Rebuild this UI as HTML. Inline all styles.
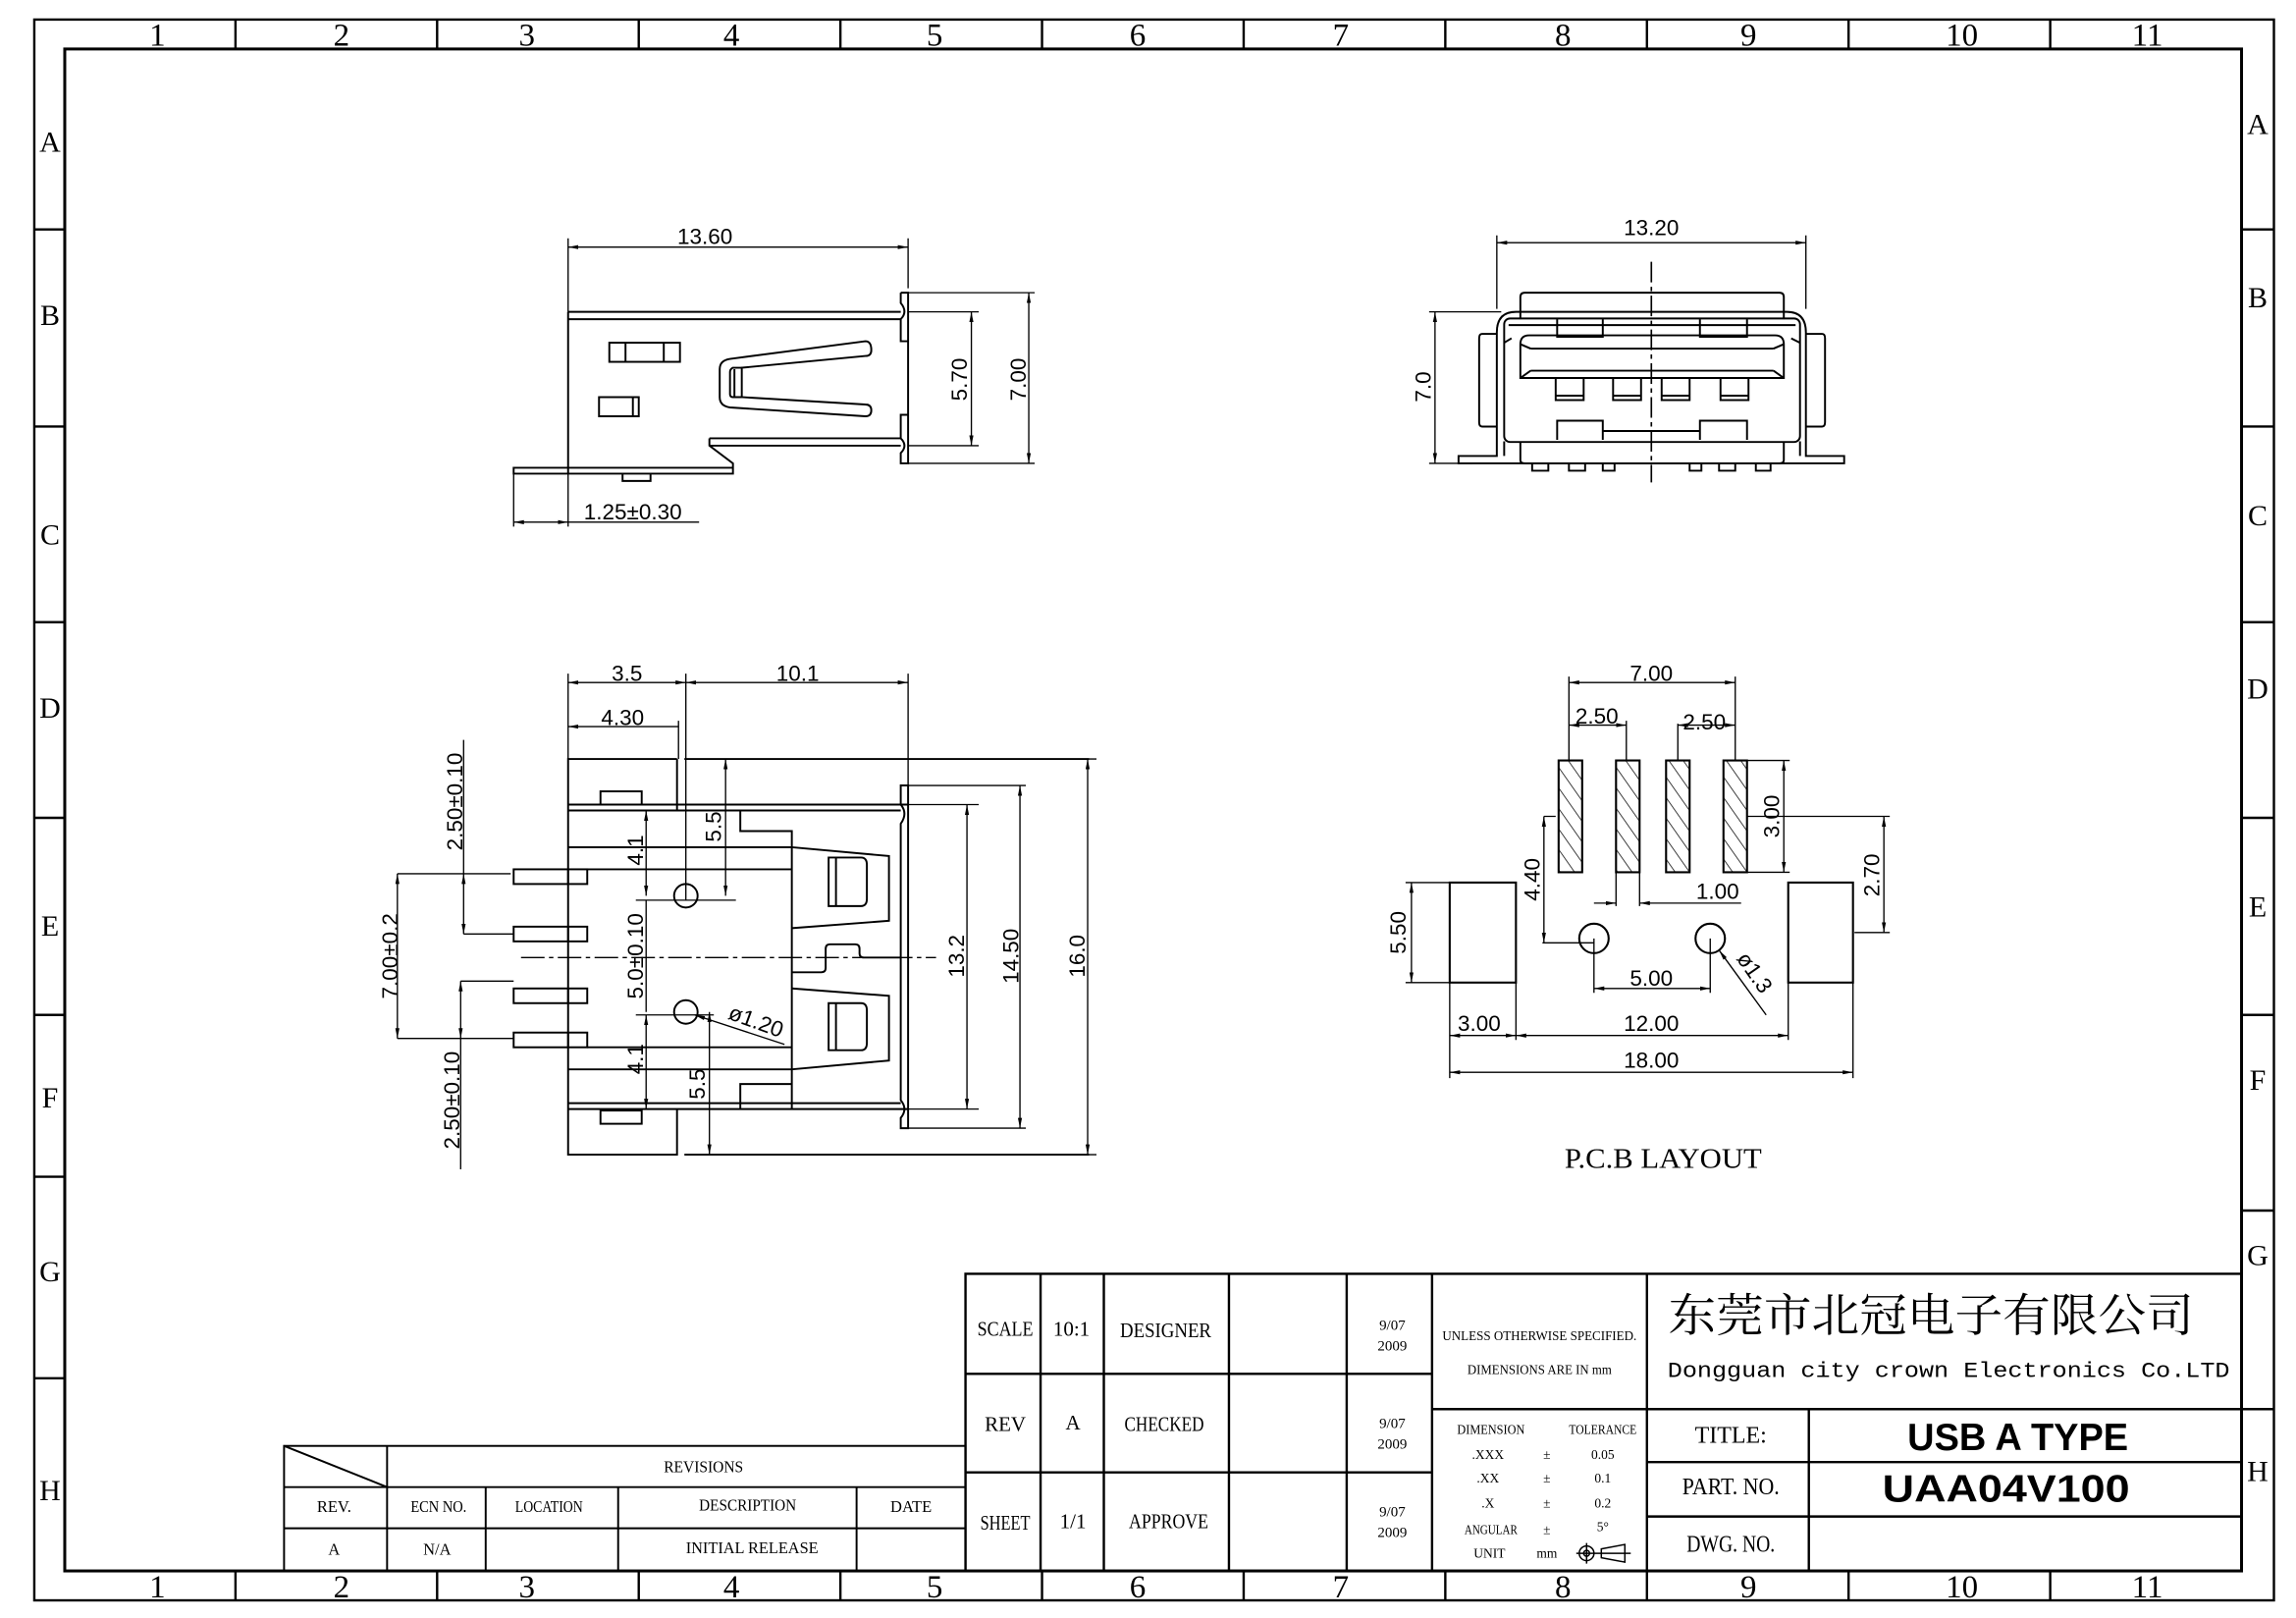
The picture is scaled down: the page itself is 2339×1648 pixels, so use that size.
<!DOCTYPE html>
<html><head><meta charset="utf-8"><style>
html,body{margin:0;padding:0;background:#fff;width:2339px;height:1648px;overflow:hidden}
svg{display:block}
.f{font-family:"Liberation Serif",serif}
.s{font-family:"Liberation Sans",sans-serif}
.m{font-family:"Liberation Mono",monospace}
</style></head><body>
<svg width="2339" height="1648" viewBox="0 0 1560 1100" preserveAspectRatio="none" xmlns="http://www.w3.org/2000/svg">
<defs>
<marker id="a" viewBox="0 0 10 4" refX="10" refY="2" markerWidth="7" markerHeight="3" orient="auto-start-reverse" markerUnits="userSpaceOnUse"><path d="M0,0 L10,2 L0,4z" fill="#000"/></marker>
<pattern id="h" width="8" height="8" patternUnits="userSpaceOnUse" patternTransform="rotate(-35)"><line x1="0" y1="0" x2="0" y2="8" stroke="#000" stroke-width="1"/></pattern>
</defs>
<rect width="1560" height="1100" fill="#fff"/>
<!-- frame -->
<g fill="none" stroke="#000" stroke-width="1.6">
<rect x="23.3" y="13.3" width="1521.7" height="1074.7"/>
<rect x="44" y="33.3" width="1479" height="1734.7" style="display:none"/>
<rect x="44" y="33.3" width="1479" height="1034.7" stroke-width="2"/>
<path d="M160 13.3V33.3M297 13.3V33.3M434 13.3V33.3M571 13.3V33.3M708 13.3V33.3M845 13.3V33.3M982 13.3V33.3M1119 13.3V33.3M1256 13.3V33.3M1393 13.3V33.3"/>
<path d="M160 1068V1088M297 1068V1088M434 1068V1088M571 1068V1088M708 1068V1088M845 1068V1088M982 1068V1088M1119 1068V1088M1256 1068V1088M1393 1068V1088"/>
<path d="M23.3 156H44M23.3 290H44M23.3 423H44M23.3 556H44M23.3 690H44M23.3 800H44M23.3 937H44"/>
<path d="M1523 156H1545M1523 290H1545M1523 423H1545M1523 556H1545M1523 690H1545M1523 823H1545M1523 958H1545"/>
</g>
<g class="f" font-size="22" text-anchor="middle">
<text x="107" y="31">1</text><text x="232" y="31">2</text><text x="358" y="31">3</text><text x="497" y="31">4</text><text x="635" y="31">5</text><text x="773" y="31">6</text><text x="911" y="31">7</text><text x="1062" y="31">8</text><text x="1188" y="31">9</text><text x="1333" y="31">10</text><text x="1459" y="31">11</text>
<text x="107" y="1086">1</text><text x="232" y="1086">2</text><text x="358" y="1086">3</text><text x="497" y="1086">4</text><text x="635" y="1086">5</text><text x="773" y="1086">6</text><text x="911" y="1086">7</text><text x="1062" y="1086">8</text><text x="1188" y="1086">9</text><text x="1333" y="1086">10</text><text x="1459" y="1086">11</text>
<g font-size="20">
<text x="34" y="103">A</text><text x="34" y="221">B</text><text x="34" y="370">C</text><text x="34" y="488">D</text><text x="34" y="636">E</text><text x="34" y="753">F</text><text x="34" y="871">G</text><text x="34" y="1020">H</text>
<text x="1534" y="91">A</text><text x="1534" y="209">B</text><text x="1534" y="357">C</text><text x="1534" y="475">D</text><text x="1534" y="623">E</text><text x="1534" y="741">F</text><text x="1534" y="860">G</text><text x="1534" y="1007">H</text>
</g></g>

<!-- ===== side view (top-left) ===== -->
<g fill="none" stroke="#000" stroke-width="1.3">
<path d="M386 212H612M386 217H612M386 212V322"/>
<path d="M612 199H617V315H612V308Q617 303 612 298V282H617M612 199V206Q617 212 612 217V232H617"/>
<path d="M482 298H612M482 303H612M482 298V303L498 315V322H349V318H498"/>
<path d="M423 322.5V327H442V322.5"/>
<rect x="414" y="233" width="48" height="13"/><path d="M425 233V246M451 233V246"/>
<rect x="407" y="270" width="27" height="13"/><path d="M430 270V283"/>
<path d="M588 232L496 244Q489 245 489 251V270Q489 276 496 277L588 283Q592 283 592 279Q592 275 588 275L504 270V250L588 242Q592 242 592 238Q592 232 588 232Z"/>
<path d="M504 250H498Q496 251 496 253V268Q496 270 498 270H504M499 251V270"/>
</g>
<g stroke="#000" stroke-width="0.9" fill="none">
<path d="M386 162V212M617 162V196"/>
<line x1="386" y1="168" x2="617" y2="168" marker-start="url(#a)" marker-end="url(#a)"/>
<path d="M617 212H665M617 303H665M617 199H703M617 315H703"/>
<line x1="660" y1="212" x2="660" y2="303" marker-start="url(#a)" marker-end="url(#a)"/>
<line x1="699" y1="199" x2="699" y2="315" marker-start="url(#a)" marker-end="url(#a)"/>
<path d="M349 322V358M386 322V358M386 355H475"/>
<line x1="349" y1="355" x2="386" y2="355" marker-start="url(#a)" marker-end="url(#a)"/>
</g>
<g class="s" font-size="15" text-anchor="middle">
<text x="479" y="166">13.60</text>
<text x="430" y="353">1.25±0.30</text>
<text transform="translate(657,258) rotate(-90)">5.70</text>
<text transform="translate(697,258) rotate(-90)">7.00</text>
</g>

<!-- ===== front view (top-right) ===== -->
<g fill="none" stroke="#000" stroke-width="1.3">
<path d="M1033 217V202Q1033 199 1036 199H1209Q1212 199 1212 202V217"/>
<path d="M1017 226Q1017 212 1030 212H1214Q1227 212 1227 226V310H1253V315H991V310H1017Z"/>
<path d="M1017 227H1007Q1005 227 1005 230V287Q1005 290 1007 290H1017M1227 227H1238Q1240 227 1240 230V287Q1240 290 1238 290H1227"/>
<rect x="1022" y="216.5" width="201" height="84" rx="4"/>
<path d="M1025 221H1220M1022 233L1027 230M1223 233L1217 230"/>
<path d="M1033 257V234Q1033 228 1039 228H1206Q1212 228 1212 234V257Z"/>
<path d="M1040 237H1205M1040 252H1205M1033 234L1040 237M1212 234L1205 237M1033 257L1040 252M1212 257L1205 252"/>
<path d="M1058 217V229H1089V217M1155 217V229H1187V217"/>
<path d="M1058 299V286H1089V299M1155 299V286H1187V299M1089 293H1155"/>
<rect x="1057" y="257" width="19" height="15"/><rect x="1096" y="257" width="19" height="15"/><rect x="1129" y="257" width="19" height="15"/><rect x="1169" y="257" width="19" height="15"/>
<path d="M1057 269H1076M1096 269H1115M1129 269H1148M1169 269H1188"/>
<path d="M1033 300V313Q1033 315 1036 315H1209Q1212 315 1212 313V300"/>
<path d="M1022 300V310M1223 300V310"/>
<path d="M1041 315V320H1052V315M1066 315V320H1077V315M1089 315V320H1097V315M1148 315V320H1156V315M1168 315V320H1179V315M1193 315V320H1203V315"/>
</g>
<g stroke="#000" stroke-width="0.9" fill="none">
<path d="M1017 160V210M1227 160V210"/>
<line x1="1017" y1="165" x2="1227" y2="165" marker-start="url(#a)" marker-end="url(#a)"/>
<path d="M971 212H1020M971 315H1000"/>
<line x1="975" y1="212" x2="975" y2="315" marker-start="url(#a)" marker-end="url(#a)"/>
<path d="M1122 178V328" stroke-dasharray="14,3,3,3" stroke-width="1.1"/>
</g>
<g class="s" font-size="15" text-anchor="middle">
<text x="1122" y="160">13.20</text>
<text transform="translate(972,263) rotate(-90)">7.0</text>
</g>

<!-- ===== top view (bottom-left) ===== -->
<g fill="none" stroke="#000" stroke-width="1.3">
<path d="M460 516H386V785H460V754M465 516H740M465 785H740"/>
<path d="M460 516V551"/>
<path d="M386 547H617M386 551H612M386 750H612M386 754H617"/>
<rect x="408" y="538" width="28" height="9"/>
<rect x="408" y="755" width="28" height="9"/>
<path d="M386 576H538M399 591H538M503 551V565H538V754M399 712H538M386 727H538M503 754V737H538"/>
<path d="M612 534H617V767H612V760Q617 754 612 748V560Q617 553 612 547Z"/>
<rect x="349" y="591" width="50" height="10"/><rect x="349" y="630" width="50" height="10"/><rect x="349" y="672" width="50" height="10"/><rect x="349" y="702" width="50" height="10"/>
<path d="M386 591V601M386 630V640M386 672V682M386 702V712"/>
<path d="M538 576L604 582V626L538 631"/>
<path d="M563 583H585Q589 583 589 588V611Q589 616 585 616H563ZM568 583V616"/>
<path d="M538 672L604 677V721L538 727"/>
<path d="M563 682H585Q589 682 589 687V709Q589 714 585 714H563ZM568 682V714"/>
<path d="M538 661H558Q561 661 561 658V645Q561 642 564 642H581Q584 642 584 645V648Q584 651 587 651H612"/>
<circle cx="466" cy="609" r="8"/><circle cx="466" cy="688" r="8"/>
</g>
<g stroke="#000" stroke-width="0.9" fill="none">
<path d="M354 651H636" stroke-dasharray="16,3,3,3"/>
<path d="M466 458V612M617 458V534M386 458V516M461 490V516"/>
<line x1="386" y1="464" x2="466" y2="464" marker-start="url(#a)" marker-end="url(#a)"/>
<line x1="466" y1="464" x2="617" y2="464" marker-start="url(#a)" marker-end="url(#a)"/>
<line x1="386" y1="494" x2="461" y2="494" marker-start="url(#a)"/>
<path d="M432 612H500M432 690H485"/>
<line x1="439" y1="551" x2="439" y2="609" marker-start="url(#a)" marker-end="url(#a)"/>
<line x1="439" y1="612" x2="439" y2="688" />
<line x1="439" y1="690" x2="439" y2="754" marker-start="url(#a)" marker-end="url(#a)"/>
<line x1="493" y1="516" x2="493" y2="609" marker-start="url(#a)" marker-end="url(#a)"/>
<line x1="482" y1="688" x2="482" y2="785" marker-start="url(#a)" marker-end="url(#a)"/>
<line x1="533" y1="710" x2="472" y2="690" marker-end="url(#a)"/>
<path d="M617 547H665M617 754H665M617 534H697M617 767H697M740 516H745M740 785H745"/>
<line x1="657" y1="547" x2="657" y2="754" marker-start="url(#a)" marker-end="url(#a)"/>
<line x1="693" y1="534" x2="693" y2="767" marker-start="url(#a)" marker-end="url(#a)"/>
<line x1="739" y1="516" x2="739" y2="785" marker-start="url(#a)" marker-end="url(#a)"/>
<path d="M270 594H347M315 635H349M313 667H349M270 706H349"/>
<line x1="315" y1="503" x2="315" y2="594" />
<line x1="315" y1="594" x2="315" y2="635" marker-start="url(#a)" marker-end="url(#a)"/>
<line x1="313" y1="667" x2="313" y2="706" marker-start="url(#a)" marker-end="url(#a)"/>
<line x1="313" y1="706" x2="313" y2="795" />
<line x1="270" y1="594" x2="270" y2="706" marker-start="url(#a)" marker-end="url(#a)"/>
</g>
<g class="s" font-size="15" text-anchor="middle">
<text x="426" y="463">3.5</text>
<text x="542" y="463">10.1</text>
<text x="423" y="493">4.30</text>
<text transform="translate(314,545) rotate(-90)">2.50±0.10</text>
<text transform="translate(312,748) rotate(-90)">2.50±0.10</text>
<text transform="translate(270,650) rotate(-90)">7.00±0.2</text>
<text transform="translate(437,578) rotate(-90)">4.1</text>
<text transform="translate(437,650) rotate(-90)">5.0±0.10</text>
<text transform="translate(437,720) rotate(-90)">4.1</text>
<text transform="translate(490,562) rotate(-90)">5.5</text>
<text transform="translate(479,737) rotate(-90)">5.5</text>
<text transform="translate(512,699) rotate(20)">ø1.20</text>
<text transform="translate(655,650) rotate(-90)">13.2</text>
<text transform="translate(692,650) rotate(-90)">14.50</text>
<text transform="translate(737,650) rotate(-90)">16.0</text>
</g>

<!-- ===== PCB layout ===== -->
<g stroke="#000" stroke-width="1.4">
<rect x="1059" y="517" width="16" height="76" fill="url(#h)"/>
<rect x="1098" y="517" width="16" height="76" fill="url(#h)"/>
<rect x="1132" y="517" width="16" height="76" fill="url(#h)"/>
<rect x="1171" y="517" width="16" height="76" fill="url(#h)"/>
<rect x="985" y="600" width="45" height="68" fill="none"/>
<rect x="1215" y="600" width="44" height="68" fill="none"/>
<circle cx="1083" cy="638" r="10" fill="none"/>
<circle cx="1162" cy="638" r="10" fill="none"/>
</g>
<g stroke="#000" stroke-width="0.9" fill="none">
<path d="M1066 460V517M1179 460V517M1105 490V517M1140 492V517"/>
<line x1="1066" y1="464" x2="1179" y2="464" marker-start="url(#a)" marker-end="url(#a)"/>
<line x1="1066" y1="493" x2="1105" y2="493" marker-start="url(#a)" marker-end="url(#a)"/>
<line x1="1140" y1="493" x2="1179" y2="493" marker-start="url(#a)" marker-end="url(#a)"/>
<path d="M1187 517H1216M1187 593H1216"/>
<line x1="1212" y1="517" x2="1212" y2="593" marker-start="url(#a)" marker-end="url(#a)"/>
<path d="M1187 555H1284M1260 634H1284"/>
<line x1="1280" y1="555" x2="1280" y2="634" marker-start="url(#a)" marker-end="url(#a)"/>
<path d="M1049 555H1057M1048 641H1083"/>
<line x1="1049" y1="555" x2="1049" y2="641" marker-start="url(#a)" marker-end="url(#a)"/>
<path d="M1098 593V616M1114 593V616"/>
<line x1="1083" y1="614" x2="1098" y2="614" marker-end="url(#a)"/>
<line x1="1183" y1="614" x2="1114" y2="614" marker-end="url(#a)"/>
<path d="M1083 638V675M1162 638V675"/>
<line x1="1083" y1="672" x2="1162" y2="672" marker-start="url(#a)" marker-end="url(#a)"/>
<line x1="1200" y1="690" x2="1168" y2="646" marker-end="url(#a)"/>
<path d="M955 600H985M955 668H985"/>
<line x1="959" y1="600" x2="959" y2="668" marker-start="url(#a)" marker-end="url(#a)"/>
<path d="M985 668V733M1030 668V707M1215 668V707M1259 668V733"/>
<line x1="985" y1="704" x2="1030" y2="704" marker-start="url(#a)" marker-end="url(#a)"/>
<line x1="1030" y1="704" x2="1215" y2="704" marker-start="url(#a)" marker-end="url(#a)"/>
<line x1="985" y1="729" x2="1259" y2="729" marker-start="url(#a)" marker-end="url(#a)"/>
</g>
<g class="s" font-size="15" text-anchor="middle">
<text x="1122" y="463">7.00</text>
<text x="1085" y="492">2.50</text>
<text x="1158" y="496">2.50</text>
<text transform="translate(1209,555) rotate(-90)">3.00</text>
<text transform="translate(1277,595) rotate(-90)">2.70</text>
<text transform="translate(1046,598) rotate(-90)">4.40</text>
<text transform="translate(955,634) rotate(-90)">5.50</text>
<text x="1167" y="611">1.00</text>
<text x="1122" y="670">5.00</text>
<text transform="translate(1188,664) rotate(55)">ø1.3</text>
<text x="1005" y="701">3.00</text>
<text x="1122" y="701">12.00</text>
<text x="1122" y="726">18.00</text>
</g>
<text class="f" x="1130" y="794" font-size="19" text-anchor="middle" textLength="134" lengthAdjust="spacingAndGlyphs">P.C.B LAYOUT</text>

<!-- ===== revisions block ===== -->
<g fill="none" stroke="#000" stroke-width="1.3">
<rect x="193" y="983" width="463" height="85"/>
<path d="M193 1011H656M193 1039H656M263 983V1068M330 1011V1068M420 1011V1068M582 1011V1068M193 983L263 1011"/>
</g>
<g class="f" font-size="11" text-anchor="middle">
<text x="478" y="1001" textLength="54" lengthAdjust="spacingAndGlyphs">REVISIONS</text>
<text x="227" y="1028">REV.</text><text x="298" y="1028" textLength="38" lengthAdjust="spacingAndGlyphs">ECN NO.</text><text x="373" y="1028" textLength="46" lengthAdjust="spacingAndGlyphs">LOCATION</text><text x="508" y="1027" textLength="66" lengthAdjust="spacingAndGlyphs">DESCRIPTION</text><text x="619" y="1028">DATE</text>
<text x="227" y="1057">A</text><text x="297" y="1057">N/A</text><text x="511" y="1056" textLength="90" lengthAdjust="spacingAndGlyphs">INITIAL RELEASE</text>
</g>

<!-- ===== title block ===== -->
<g fill="none" stroke="#000" stroke-width="1.6">
<rect x="656" y="866" width="867" height="202"/>
<path d="M656 934H973M656 1001H973M707 866V1068M750 866V1068M835 866V1068M915 866V1068M973 866V1068M1119 866V1068M973 958H1523M1119 994H1523M1119 1031H1523M1229 958V1068"/>
</g>
<g class="f" font-size="14" text-anchor="middle">
<text x="683" y="908" textLength="38" lengthAdjust="spacingAndGlyphs">SCALE</text>
<text x="728" y="908">10:1</text>
<text x="792" y="909" textLength="62" lengthAdjust="spacingAndGlyphs">DESIGNER</text>
<text x="683" y="973">REV</text>
<text x="729" y="972">A</text>
<text x="791" y="973" textLength="54" lengthAdjust="spacingAndGlyphs">CHECKED</text>
<text x="683" y="1040" textLength="34" lengthAdjust="spacingAndGlyphs">SHEET</text>
<text x="729" y="1039">1/1</text>
<text x="794" y="1039" textLength="54" lengthAdjust="spacingAndGlyphs">APPROVE</text>
<g font-size="10"><text x="946" y="904">9/07</text><text x="946" y="918">2009</text><text x="946" y="971">9/07</text><text x="946" y="985">2009</text><text x="946" y="1031">9/07</text><text x="946" y="1045">2009</text></g>
<g font-size="9">
<text x="1046" y="911" textLength="132" lengthAdjust="spacingAndGlyphs">UNLESS OTHERWISE SPECIFIED.</text>
<text x="1046" y="934" textLength="98" lengthAdjust="spacingAndGlyphs">DIMENSIONS ARE IN mm</text>
<text x="1013" y="975" textLength="46" lengthAdjust="spacingAndGlyphs">DIMENSION</text><text x="1089" y="975" textLength="46" lengthAdjust="spacingAndGlyphs">TOLERANCE</text>
<text x="1011" y="992">.XXX</text><text x="1051" y="992">±</text><text x="1089" y="992">0.05</text>
<text x="1011" y="1008">.XX</text><text x="1051" y="1008">±</text><text x="1089" y="1008">0.1</text>
<text x="1011" y="1025">.X</text><text x="1051" y="1025">±</text><text x="1089" y="1025">0.2</text>
<text x="1013" y="1043" textLength="36" lengthAdjust="spacingAndGlyphs">ANGULAR</text><text x="1051" y="1043">±</text><text x="1089" y="1041">5°</text>
<text x="1012" y="1059">UNIT</text><text x="1051" y="1059">mm</text>
</g>
<text x="1176" y="981" font-size="16">TITLE:</text>
<text x="1176" y="1016" font-size="16" textLength="66" lengthAdjust="spacingAndGlyphs">PART. NO.</text>
<text x="1176" y="1055" font-size="16" textLength="60" lengthAdjust="spacingAndGlyphs">DWG. NO.</text>
</g>
<g fill="none" stroke="#000" stroke-width="1">
<circle cx="1078" cy="1056" r="5"/><circle cx="1078" cy="1056" r="2"/><path d="M1071 1056H1108M1078 1049V1063M1088 1053L1104 1050V1062L1088 1059Z"/>
</g>
<text x="1312" y="905" font-family="'Noto Serif CJK SC','Noto Sans CJK SC',serif" font-size="31" textLength="357" lengthAdjust="spacingAndGlyphs" text-anchor="middle">东莞市北冠电子有限公司</text>
<text class="m" x="1324" y="936" font-size="15" text-anchor="middle" textLength="382" lengthAdjust="spacingAndGlyphs">Dongguan city crown Electronics Co.LTD</text>
<text class="s" x="1371" y="986" font-size="26" font-weight="bold" text-anchor="middle" textLength="150" lengthAdjust="spacingAndGlyphs">USB A TYPE</text>
<text class="s" x="1363" y="1021" font-size="26" font-weight="bold" text-anchor="middle" textLength="168" lengthAdjust="spacingAndGlyphs">UAA04V100</text>
</svg>
</body></html>
